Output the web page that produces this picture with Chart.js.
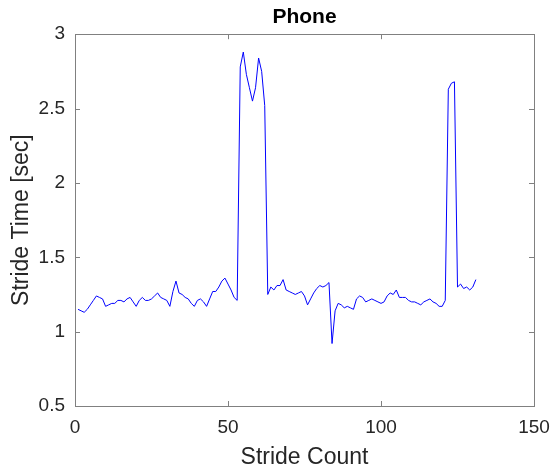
<!DOCTYPE html>
<html>
<head>
<meta charset="utf-8">
<title>Phone</title>
<script src="https://cdn.jsdelivr.net/npm/chart.js@4"></script>
<style>
  html, body { margin: 0; padding: 0; background: #fff; }
  #wrap { width: 552px; height: 471px; }
</style>
</head>
<body>
<div id="wrap"><canvas id="strideChart" width="552" height="471"></canvas></div>
<script>
// stride time per stride (sec), stride 1..131
const strideTime = [
  1.15, 1.14, 1.13, 1.15, 1.18, 1.21, 1.24, 1.23, 1.22, 1.17,
  1.18, 1.19, 1.19, 1.21, 1.21, 1.20, 1.22, 1.23, 1.20, 1.17,
  1.21, 1.23, 1.21, 1.21, 1.22, 1.24, 1.26, 1.23, 1.22, 1.21,
  1.17, 1.27, 1.34, 1.26, 1.25, 1.23, 1.22, 1.19, 1.17, 1.21,
  1.22, 1.20, 1.17, 1.22, 1.27, 1.27, 1.30, 1.34, 1.36, 1.32,
  1.28, 1.23, 1.21, 2.78, 2.88, 2.73, 2.64, 2.55, 2.64, 2.84,
  2.75, 2.52, 1.25, 1.30, 1.28, 1.31, 1.31, 1.35, 1.28, 1.27,
  1.26, 1.25, 1.26, 1.27, 1.24, 1.18, 1.22, 1.26, 1.29, 1.31,
  1.30, 1.31, 1.33, 0.92, 1.14, 1.19, 1.18, 1.16, 1.17, 1.16,
  1.15, 1.22, 1.24, 1.23, 1.20, 1.21, 1.22, 1.21, 1.20, 1.19,
  1.20, 1.24, 1.26, 1.25, 1.28, 1.23, 1.23, 1.23, 1.21, 1.20,
  1.20, 1.19, 1.18, 1.20, 1.21, 1.22, 1.20, 1.19, 1.17, 1.17,
  1.21, 2.63, 2.67, 2.68, 1.30, 1.32, 1.29, 1.30, 1.28, 1.30,
  1.35
];
const xTicks = [0, 50, 100, 150];
const yTicks = [0.5, 1, 1.5, 2, 2.5, 3];

const points = strideTime.map((t, i) => ({ x: i + 1, y: t }));

const textColor = '#262626';
const boxColor = '#808080';
const fontFamily = 'Liberation Sans, Arial, Helvetica, sans-serif';

// MATLAB-like box with inward ticks on all four sides
const boxPlugin = {
  id: 'box',
  afterDraw(chart) {
    const { ctx, chartArea: a, scales } = chart;
    ctx.save();
    ctx.strokeStyle = boxColor;
    ctx.lineWidth = 1;
    ctx.strokeRect(Math.round(a.left) + 0.5, Math.round(a.top) + 0.5,
      Math.round(a.right - a.left), Math.round(a.bottom - a.top));
    const len = 5;
    ctx.beginPath();
    xTicks.forEach(v => {
      const px = Math.round(scales.x.getPixelForValue(v)) + 0.5;
      ctx.moveTo(px, a.bottom); ctx.lineTo(px, a.bottom - len);
      ctx.moveTo(px, a.top); ctx.lineTo(px, a.top + len);
    });
    yTicks.forEach(v => {
      const py = Math.round(scales.y.getPixelForValue(v)) + 0.5;
      ctx.moveTo(a.left, py); ctx.lineTo(a.left + len, py);
      ctx.moveTo(a.right, py); ctx.lineTo(a.right - len, py);
    });
    ctx.stroke();
    ctx.restore();
  }
};

new Chart(document.getElementById('strideChart').getContext('2d'), {
  type: 'line',
  data: {
    datasets: [{
      label: 'Phone',
      data: points,
      borderColor: '#0000ff',
      borderWidth: 1,
      pointRadius: 0,
      tension: 0,
      fill: false
    }]
  },
  options: {
    responsive: false,
    animation: false,
    layout: { padding: { left: 0, right: 18, top: 0, bottom: 0 } },
    plugins: {
      legend: { display: false },
      tooltip: { enabled: false },
      title: {
        display: true,
        text: 'Phone',
        fullSize: false,
        color: '#000',
        font: { family: fontFamily, size: 21, weight: 'bold' },
        padding: { top: 5, bottom: 4 }
      }
    },
    scales: {
      x: {
        type: 'linear',
        min: 0,
        max: 150,
        afterBuildTicks: s => { s.ticks = xTicks.map(v => ({ value: v })); },
        afterFit: s => {
          s.height = 65;
          s.paddingLeft = 0;
          s.paddingRight = 0;
        },
        grid: { display: false, drawTicks: false },
        border: { display: false },
        ticks: { color: textColor, padding: 10, maxRotation: 0, font: { family: fontFamily, size: 19 } },
        title: {
          display: true,
          text: 'Stride Count',
          color: textColor,
          font: { family: fontFamily, size: 23 },
          padding: { top: 0, bottom: 0 }
        }
      },
      y: {
        type: 'linear',
        min: 0.5,
        max: 3,
        afterBuildTicks: s => { s.ticks = yTicks.map(v => ({ value: v })); },
        afterFit: s => {
          s.width = 75;
          s.paddingTop = 0;
          s.paddingBottom = 0;
        },
        grid: { display: false, drawTicks: false },
        border: { display: false },
        ticks: {
          color: textColor,
          padding: 10,
          font: { family: fontFamily, size: 19 },
          callback: v => String(v)
        },
        title: {
          display: true,
          text: 'Stride Time [sec]',
          color: textColor,
          font: { family: fontFamily, size: 23 },
          padding: { top: 8, bottom: 0 }
        }
      }
    }
  },
  plugins: [boxPlugin]
});
</script>
</body>
</html>
